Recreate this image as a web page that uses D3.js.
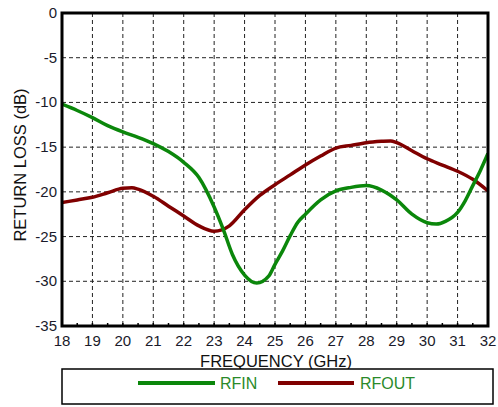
<!DOCTYPE html>
<html><head><meta charset="utf-8">
<script src="https://cdn.jsdelivr.net/npm/d3@7"></script>
<style>body{margin:0;background:#fff}svg{display:block}</style>
</head><body>
<script>
const xTicks = [18,19,20,21,22,23,24,25,26,27,28,29,30,31,32];
const yTicks = [0,-5,-10,-15,-20,-25,-30,-35];
const rfinFreq = [18,18.5,19,19.5,20,20.5,21,21.5,22,22.5,23,23.3,23.6,24,24.4,24.8,25,25.25,25.5,25.75,26,26.5,27,27.5,28,28.5,29,29.5,30,30.3,30.6,31,31.25,31.5,31.75,32];
const rfinVals = [-10.2,-10.9,-11.7,-12.6,-13.3,-13.9,-14.6,-15.5,-16.7,-18.4,-21.7,-24.2,-27.0,-29.3,-30.2,-29.4,-28.1,-26.6,-24.9,-23.4,-22.5,-20.9,-19.9,-19.5,-19.3,-19.8,-20.9,-22.5,-23.45,-23.6,-23.3,-22.3,-21.0,-19.3,-17.6,-15.7];
const rfoutFreq = [18,18.5,19,19.5,20,20.3,20.5,21,21.5,22,22.5,23,23.5,24,24.5,25,25.5,26,26.5,27,27.5,28,28.5,28.8,29,29.5,30,30.5,31,31.5,32];
const rfoutVals = [-21.2,-20.9,-20.6,-20.1,-19.6,-19.55,-19.7,-20.5,-21.6,-22.7,-23.8,-24.4,-23.8,-22.0,-20.4,-19.2,-18.1,-17.0,-16.0,-15.1,-14.8,-14.5,-14.35,-14.3,-14.5,-15.4,-16.3,-17.0,-17.7,-18.6,-19.9];
const seriesNames = ["RFIN","RFOUT"];
const seriesColors = ["#0b870b","#800000"];

const W=498,H=407;
const svg=d3.select("body").append("svg").attr("width",W).attr("height",H);
const L=62,R=488,T=13,B=326;
const x=d3.scaleLinear().domain([18,32]).range([L,R]);
const y=d3.scaleLinear().domain([-35,0]).range([B,T]);
const font="Liberation Sans, Arial, sans-serif";

// grid
const g=svg.append("g");
g.selectAll(".vg").data(xTicks.slice(1,-1)).enter().append("line")
 .attr("x1",d=>x(d)).attr("x2",d=>x(d)).attr("y1",T).attr("y2",B)
 .attr("stroke","#222").attr("stroke-width",1).attr("stroke-dasharray","4,3");
g.selectAll(".hg").data(yTicks.slice(1,-1)).enter().append("line")
 .attr("y1",d=>y(d)).attr("y2",d=>y(d)).attr("x1",L).attr("x2",R)
 .attr("stroke","#222").attr("stroke-width",1).attr("stroke-dasharray","4,3");

// minor ticks bottom
const minor=d3.range(18.5,32,0.5);
g.selectAll(".mt").data(minor).enter().append("line")
 .attr("x1",d=>x(d)).attr("x2",d=>x(d)).attr("y1",B).attr("y2",B-3)
 .attr("stroke","#000").attr("stroke-width",1.5);

// lines
const line=d3.line().x(d=>x(d[0])).y(d=>y(d[1])).curve(d3.curveMonotoneX);
svg.append("clipPath").attr("id","c").append("rect").attr("x",L).attr("y",T).attr("width",R-L).attr("height",B-T);
const series=[d3.zip(rfinFreq,rfinVals), d3.zip(rfoutFreq,rfoutVals)];
svg.append("g").attr("clip-path","url(#c)").selectAll("path").data([1,0]).enter().append("path")
 .attr("d",i=>line(series[i])).attr("fill","none").attr("stroke",i=>seriesColors[i]).attr("stroke-width",3.5)
 .attr("stroke-linejoin","round");

// frame
svg.append("rect").attr("x",L).attr("y",T).attr("width",R-L).attr("height",B-T)
 .attr("fill","none").attr("stroke","#000").attr("stroke-width",3);

// tick labels
svg.append("g").selectAll("text").data(xTicks).enter().append("text")
 .attr("x",d=>x(d)).attr("y",346).attr("text-anchor","middle")
 .attr("font-family",font).attr("font-size",15).attr("fill","#1a1a2a").text(d=>d);
svg.append("g").selectAll("text").data(yTicks).enter().append("text")
 .attr("x",57).attr("y",d=>y(d)+5).attr("text-anchor","end")
 .attr("font-family",font).attr("font-size",15).attr("fill","#1a1a2a").text(d=>d);

// axis titles
svg.append("text").attr("x",276).attr("y",367).attr("text-anchor","middle")
 .attr("font-family",font).attr("font-size",16.5).attr("fill","#111").text("FREQUENCY (GHz)");
svg.append("text").attr("transform","translate(26,165) rotate(-90)").attr("text-anchor","middle")
 .attr("font-family",font).attr("font-size",16.5).attr("fill","#111").text("RETURN LOSS (dB)");

// legend
svg.append("rect").attr("x",62).attr("y",369).attr("width",431).attr("height",35)
 .attr("fill","#fff").attr("stroke","#000").attr("stroke-width",1.5);
const lx=[[138,215,220],[278,354,360]];
seriesNames.forEach((n,i)=>{
  svg.append("line").attr("x1",lx[i][0]).attr("x2",lx[i][1]).attr("y1",383).attr("y2",383)
   .attr("stroke",seriesColors[i]).attr("stroke-width",4);
  svg.append("text").attr("x",lx[i][2]).attr("y",389).attr("font-family",font).attr("font-size",16)
   .attr("fill","#2a8a2a").text(n);
});
</script>
</body></html>
